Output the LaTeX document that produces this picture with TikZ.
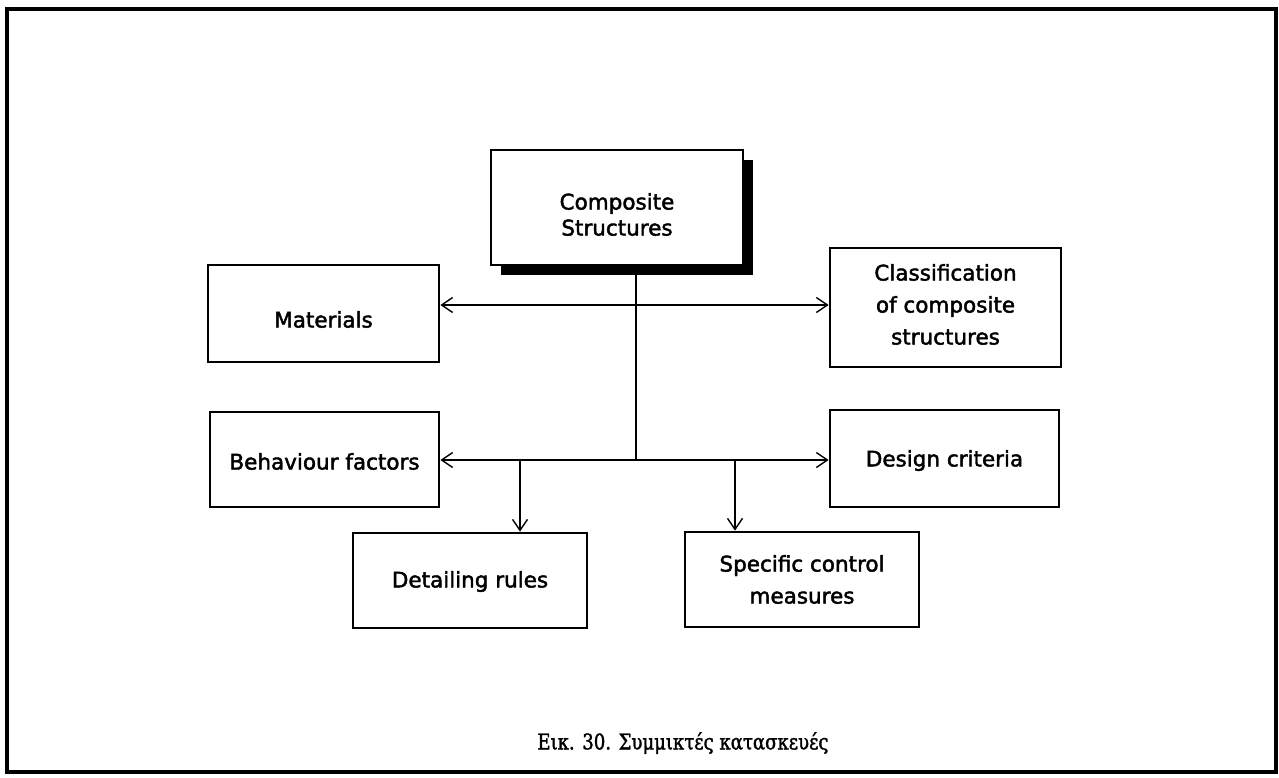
\documentclass[tikz,border=0pt]{standalone}
\usepackage{fontspec}
\setmainfont{DejaVu Sans}
\newfontfamily\boxfont[FakeBold=2]{DejaVu Sans}
\newfontfamily\captionfont[FakeBold=1.5,FakeStretch=0.84]{DejaVu Serif}
\usetikzlibrary{arrows.meta,shadows}

\begin{document}
\begin{tikzpicture}[x=1pt,y=-1pt,
  box/.style={draw,line width=2.8pt,fill=white,inner sep=0pt},
  lbl/.style={inner sep=0pt,align=center,font=\boxfont\fontsize{21.5}{32}\selectfont},
  link/.style={line width=1.4pt},
  arr/.style={link,-{Straight Barb[length=11pt,width=15pt,line width=1.4pt]}}]
  \useasboundingbox (0,0) rectangle (1279,777);
  \fill[white] (0,0) rectangle (1279,777);
  % outer frame
  \draw[line width=3.2pt] (7,9) rectangle (1276,772);

  % root node with its solid shadow
  \node[box,minimum width=252pt,minimum height=115pt,
    drop shadow={shadow xshift=10pt,shadow yshift=-10pt,fill=black,opacity=1}]
    (root) at (617,207.5) {};
  \node[lbl,font=\boxfont\fontsize{21.5}{26}\selectfont] (roottext) at ([yshift=-7pt]root.center)
    {Composite\\Structures};

  % branch boxes
  \node[box,minimum width=231pt,minimum height=97pt]  (mat) at (323.5,313.5) {};
  \node[box,minimum width=231pt,minimum height=119pt] (cls) at (945.5,307.5) {};
  \node[box,minimum width=229pt,minimum height=95pt]  (beh) at (324.5,459.5) {};
  \node[box,minimum width=229pt,minimum height=97pt]  (des) at (944.5,458.5) {};
  \node[box,minimum width=234pt,minimum height=95pt]  (det) at (470,580.5) {};
  \node[box,minimum width=234pt,minimum height=95pt]  (spc) at (802,579.5) {};

  % their labels
  \node[lbl] (mattext) at ([yshift=-6pt]mat.center) {Materials};
  \node[lbl] (clstext) at ([yshift=3pt]cls.center) {Classification\\of composite\\structures};
  \node[lbl] (behtext) at ([yshift=-2pt]beh.center) {Behaviour factors};
  \node[lbl] (destext) at ([yshift=-2pt]des.center) {Design criteria};
  \node[lbl] (dettext) at ([yshift=-1pt]det.center) {Detailing rules};
  \node[lbl] (spctext) at (spc.center) {Specific control\\measures};

  % junctions on the trunk
  \coordinate (j1) at (636,305);
  \coordinate (j2) at (636,460);
  \coordinate (d1) at (520,460);
  \coordinate (d2) at (735,460);

  \draw[link] (root.south -| j1) -- (j2);
  \draw[arr] (j1) -- (mat.east |- j1);
  \draw[arr] (j1) -- (cls.west |- j1);
  \draw[arr] (j2) -- (beh.east |- j2);
  \draw[arr] (j2) -- (des.west |- j2);
  \draw[arr] (d1) -- (det.north -| d1);
  \draw[arr] (d2) -- (spc.north -| d2);

  % caption
  \node[font=\captionfont\fontsize{21.5}{26}\selectfont] (cap) at (683,743)
    {Εικ. 30. Συμμικτές κατασκευές};
\end{tikzpicture}
\end{document}
